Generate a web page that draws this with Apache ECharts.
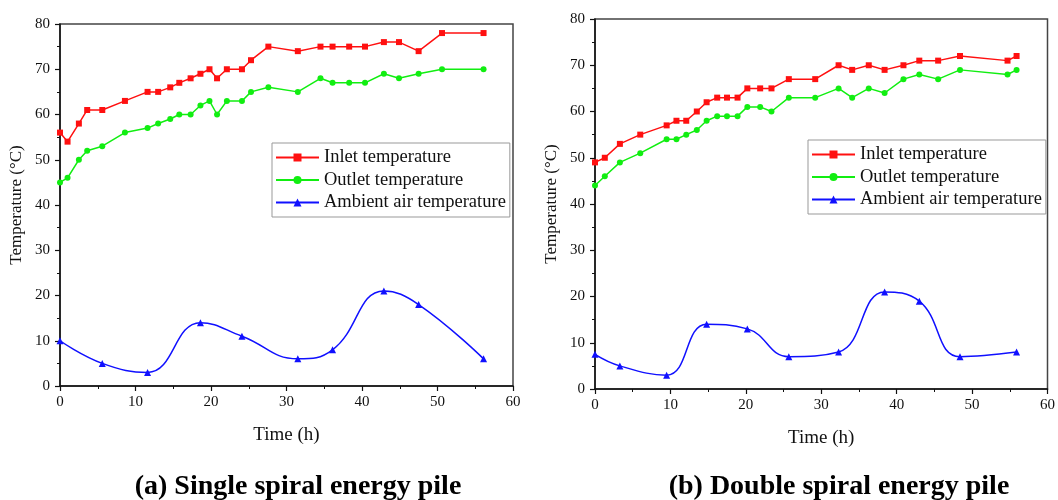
<!DOCTYPE html>
<html>
<head>
<meta charset="utf-8">
<script src="https://cdn.jsdelivr.net/npm/echarts@6/dist/echarts.min.js"></script>
<style>html,body{margin:0;padding:0;background:#fff}#c{width:1058px;height:500px}</style>
</head>
<body>
<div id="c"></div>
<script>
// ---- Data: (a) Single spiral energy pile ----
const aTime = [0,1.0,2.5,3.6,5.6,8.6,11.6,13.0,14.6,15.8,17.3,18.6,19.8,20.8,22.1,24.1,25.3,27.6,31.5,34.5,36.1,38.3,40.4,42.9,44.9,47.5,50.6,56.1];
const aInlet = [56,54,58,61,61,63,65,65,66,67,68,69,70,68,70,70,72,75,74,75,75,75,75,76,76,74,78,78];
const aOutlet = [45,46,50,52,53,56,57,58,59,60,60,62,63,60,63,63,65,66,65,68,67,67,67,69,68,69,70,70];
const aAmbTime = [0,5.6,11.6,18.6,24.1,31.5,36.1,42.9,47.5,56.1];
const aAmbient = [10,5,3,14,11,6,8,21,18,6];

// ---- Data: (b) Double spiral energy pile ----
const bTime = [0,1.3,3.3,6.0,9.5,10.8,12.1,13.5,14.8,16.2,17.5,18.9,20.2,21.9,23.4,25.7,29.2,32.3,34.1,36.3,38.4,40.9,43.0,45.5,48.4,54.7,55.9];
const bInlet = [49,50,53,55,57,58,58,60,62,63,63,63,65,65,65,67,67,70,69,70,69,70,71,71,72,71,72];
const bOutlet = [44,46,49,51,54,54,55,56,58,59,59,59,61,61,60,63,63,65,63,65,64,67,68,67,69,68,69];
const bAmbTime = [0,3.3,9.5,14.8,20.2,25.7,32.3,38.4,43.0,48.4,55.9];
const bAmbient = [7.5,5,3,14,13,7,8,21,19,7,8];

const seriesNames = ['Inlet temperature','Outlet temperature','Ambient air temperature'];
const xTicks = [0,60,10];
const yTicks = [0,80,10];
const captions = ['(a) Single spiral energy pile','(b) Double spiral energy pile'];
const xName = 'Time (h)';
const yName = 'Temperature (°C)';

const FONT = '"Liberation Serif","Times New Roman",serif';
const RED = '#ff1010', GREEN = '#11ee11', BLUE = '#1010ff';

function zip(xs, ys){ return xs.map((x,i)=>[x, ys[i]]); }

function xAxisCfg(gi){
  return {
    gridIndex: gi, type:'value', min:xTicks[0], max:xTicks[1], interval:xTicks[2],
    name: xName, nameLocation:'middle', nameGap: 40,
    nameTextStyle:{fontFamily:FONT, fontSize:19, color:'#111'},
    axisLine:{show:true, onZero:false, lineStyle:{color:'#111', width:1.5}},
    axisTick:{show:true, inside:false, length:5, lineStyle:{color:'#111', width:1.2}},
    minorTick:{show:true, splitNumber:2, length:3, lineStyle:{color:'#111', width:1}},
    axisLabel:{fontFamily:FONT, fontSize:15, color:'#111', margin:9},
    splitLine:{show:false}
  };
}
function yAxisCfg(gi){
  return {
    gridIndex: gi, type:'value', min:yTicks[0], max:yTicks[1], interval:yTicks[2],
    name: yName, nameLocation:'middle', nameGap: 35, nameRotate: 90,
    nameTextStyle:{fontFamily:FONT, fontSize:17, color:'#111'},
    axisLine:{show:true, onZero:false, lineStyle:{color:'#111', width:1.5}},
    axisTick:{show:true, inside:false, length:5, lineStyle:{color:'#111', width:1.2}},
    minorTick:{show:true, splitNumber:2, length:3, lineStyle:{color:'#111', width:1}},
    axisLabel:{fontFamily:FONT, fontSize:15, color:'#111', margin:10},
    splitLine:{show:false}
  };
}
function lineSeries(name, data, gi, color, symbol, smooth){
  return {
    name, type:'line', xAxisIndex:gi, yAxisIndex:gi, data,
    smooth: smooth ? 0.45 : false,
    symbol, symbolSize: symbol==='triangle' ? 7 : 6, showSymbol:true,
    itemStyle:{color}, lineStyle:{color, width:1.5}, z: 3, animation:false
  };
}
function legendCfg(left, top){
  return {
    left, top, orient:'vertical', data: seriesNames,
    itemWidth: 43, itemHeight: 10, itemGap: 3.5,
    padding:[5,4,5,3],
    borderColor:'#999', borderWidth:1,
    textStyle:{fontFamily:FONT, fontSize:18.5, color:'#111'}
  };
}

const chart = echarts.init(document.getElementById('c'), null, {renderer:'canvas'});
chart.setOption({
  backgroundColor:'#fff',
  animation:false,
  grid:[
    {left:60, top:24, width:453, height:362, show:true, borderColor:'#444', borderWidth:1.5},
    {left:595, top:19, width:457, height:370, show:true, borderColor:'#444', borderWidth:1.5}
  ],
  xAxis:[xAxisCfg(0), xAxisCfg(1)],
  yAxis:[yAxisCfg(0), yAxisCfg(1)],
  legend:[legendCfg(272, 143), legendCfg(808, 140)],
  series:[
    lineSeries(seriesNames[0], zip(aTime,aInlet), 0, RED, 'rect', false),
    lineSeries(seriesNames[1], zip(aTime,aOutlet), 0, GREEN, 'circle', false),
    lineSeries(seriesNames[2], zip(aAmbTime,aAmbient), 0, BLUE, 'triangle', true),
    lineSeries(seriesNames[0], zip(bTime,bInlet), 1, RED, 'rect', false),
    lineSeries(seriesNames[1], zip(bTime,bOutlet), 1, GREEN, 'circle', false),
    lineSeries(seriesNames[2], zip(bAmbTime,bAmbient), 1, BLUE, 'triangle', true)
  ],
  graphic:[
    {type:'text', x:298, y:487, style:{text:captions[0], align:'center', verticalAlign:'middle', font:'bold 28px '+FONT, fill:'#000'}},
    {type:'text', x:839, y:487, style:{text:captions[1], align:'center', verticalAlign:'middle', font:'bold 28px '+FONT, fill:'#000'}}
  ]
});
</script>
</body>
</html>
